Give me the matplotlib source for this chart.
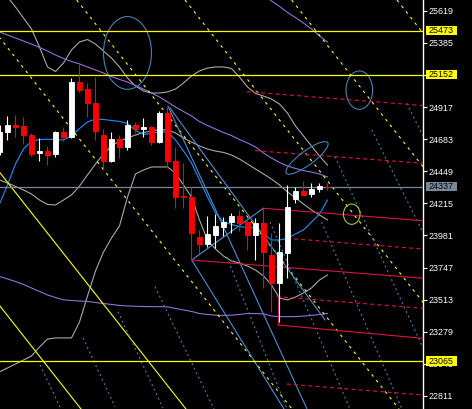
import numpy as np
import matplotlib
matplotlib.use("Agg")
import matplotlib.pyplot as plt
from matplotlib.patches import Ellipse, Rectangle
from matplotlib.transforms import Affine2D

plt.rcParams["lines.scale_dashes"] = False

# --- candles ---
OPEN = [24591, 24737, 24786, 24779, 24713, 24580, 24599, 24575, 24737, 24701,
        25099, 25048, 24948, 24713, 24524, 24682, 24626, 24784, 24757, 24771,
        24664, 24876, 24524, 24271, 24263, 23972, 23919, 23984, 24045, 24081,
        24123, 24081, 23984, 24070, 23839, 23632, 23855, 24244, 24305, 24283,
        24317, 24337]
HIGH = [24786, 24852, 24859, 24847, 24730, 24693, 24633, 24744, 24769, 25126,
        25231, 25094, 25138, 24757, 24737, 24713, 24822, 24810, 24835, 24779,
        24890, 24919, 24628, 24507, 24336, 24021, 24123, 24137, 24113, 24147,
        24167, 24108, 24106, 24179, 23997, 24070, 24349, 24332, 24380, 24361,
        24361, 24366]
LOW = [24567, 24677, 24701, 24648, 24560, 24526, 24494, 24551, 24669, 24693,
       25026, 24844, 24677, 24458, 24516, 24546, 24604, 24726, 24701, 24640,
       24655, 24470, 24179, 24179, 23802, 23851, 23899, 23887, 23977, 24001,
       24014, 23875, 23802, 23596, 23425, 23353, 23669, 24215, 24276, 24263,
       24296, 24312]
CLOSE = [24737, 24786, 24769, 24711, 24575, 24597, 24567, 24735, 24696, 25099,
         25041, 24944, 24742, 24524, 24684, 24623, 24786, 24755, 24769, 24664,
         24876, 24527, 24263, 24259, 23997, 23919, 23992, 24050, 24081, 24125,
         24074, 23984, 24070, 23863, 23632, 23863, 24191, 24307, 24276, 24320,
         24344, 24337]

# --- indicators, one value per bar ---
BB_UPPER = [25792, 25719, 25646, 25566, 25486, 25354, 25209, 25176, 25238, 25333,
            25391, 25409, 25376, 25325, 25274, 25209, 25129, 25070, 25034, 25019,
            25019, 25027, 25048, 25092, 25143, 25180, 25201, 25209, 25209, 25198,
            25136, 25063, 25016, 24997, 24975, 24939, 24873, 24779, 24706, 24633,
            24560, 24494]
BB_MID = [24385, 24363, 24338, 24312, 24283, 24239, 24207, 24203, 24239, 24276,
          24341, 24422, 24502, 24575, 24633, 24669, 24691, 24713, 24731, 24742,
          24753, 24750, 24728, 24691, 24662, 24633, 24611, 24596, 24586, 24567,
          24538, 24502, 24465, 24429, 24392, 24349, 24298, 24254, 24210, 24167,
          24130, 24094]
BB_LOWER = [22986, 23015, 23044, 23073, 23102, 23168, 23226, 23234, 23234, 23234,
            23350, 23540, 23722, 23860, 23962, 24050, 24261, 24429, 24458, 24480,
            24480, 24480, 24436, 24349, 24261, 24094, 23948, 23882, 23831, 23795,
            23780, 23758, 23729, 23686, 23620, 23525, 23511, 23532, 23562, 23598,
            23656, 23693]
MA_FAST = [24210, 24349, 24502, 24611, 24669, 24680, 24682, 24680, 24677, 24706,
           24760, 24808, 24830, 24826, 24819, 24812, 24797, 24746, 24717, 24724,
           24737, 24735, 24677, 24597, 24509, 24385, 24261, 24145, 24081, 24061,
           24045, 24039, 24035, 23992, 23948, 23948, 23959, 23992, 24021, 24079,
           24137, 24239]
ENV_MID = [25464, 25442, 25420, 25398, 25376, 25351, 25325, 25296, 25271, 25249,
           25231, 25209, 25187, 25165, 25139, 25118, 25099, 25074, 25048, 25019,
           24990, 24954, 24917, 24884, 24852, 24811, 24782, 24757, 24731, 24709,
           24680, 24655, 24626, 24582, 24545, 24513, 24487, 24469, 24454, 24443,
           24429, 24407]
ENV_LOWER = [23682, 23664, 23645, 23624, 23598, 23573, 23547, 23529, 23511, 23507,
             23503, 23500, 23492, 23485, 23478, 23471, 23467, 23465, 23463, 23462,
             23462, 23460, 23449, 23438, 23427, 23412, 23405, 23400, 23398, 23400,
             23405, 23412, 23412, 23409, 23394, 23389, 23389, 23390, 23393, 23398,
             23405, 23412]
# only the visible tail of the upper envelope (bars 33..41)
ENV_UPPER_BARS = [33, 34, 35, 36, 37, 38, 39, 40, 41]
ENV_UPPER = [25733, 25690, 25650, 25606, 25569, 25529, 25486, 25435, 25391]

# --- horizontal levels ---
YELLOW_LEVELS = [25473, 25152, 23065]
LAST_PRICE = 24337
TICKS = [25619, 25385, 25151, 24917, 24683, 24449, 24215, 23981, 23747,
         23513, 23279, 23045, 22811]

# --- parallel yellow lines: bar where each crosses the top / bottom price ---
FAN_TOP, FAN_BOTTOM = 25697, 22716
YELLOW_SOLID_TOP = [-30.06, -16.94]
YELLOW_SOLID_BOTTOM = [10.19, 23.31]
YELLOW_DASH_TOP = [-3.69, 9.65, 23.19, 36.52, 49.69]
YELLOW_DASH_BOTTOM = [36.56, 49.94, 63.44, 76.81, 89.94]

# --- red channel lines: (bar0, price0, bar1, price1) ---
RED_SOLID = [(32.98, 24179, 52.94, 24088), (24.03, 23802, 52.94, 23669),
             (34.85, 23328, 52.94, 23231), (34.85, 23535, 34.85, 23328)]
RED_DASHED = [(30.9, 25029, 52.94, 24928), (31.94, 24599, 52.94, 24507),
              (35.9, 23960, 52.94, 23882), (34.65, 23535, 52.94, 23450),
              (35.9, 22898, 52.94, 22818)]

# --- steel blue lines ---
BLUE_SOLID = [(24.03, 23802, 32.98, 24179), (21.06, 24924, 38.4, 22721),
              (21.31, 24910, 40.69, 23365), (24.03, 23802, 35.56, 22716)]
BLUE_DOTTED = [(5.06, 23037, 7.69, 22716), (10.44, 23234, 14.44, 22733),
               (14.81, 23425, 20.44, 22723), (19.44, 23607, 26.81, 22716),
               (41.94, 24555, 52.94, 23161), (40.27, 24079, 50.31, 22716),
               (46.53, 24750, 52.98, 23997), (50.9, 24944, 53.2, 24677),
               (33.81, 24079, 43.81, 22716), (28.4, 23826, 35.94, 22716)]

# --- ellipses: center bar, center price, axis vectors (bars, price) ---
ELLIPSES = [
    (16.0, 25311, (3.0, 0), (0, 265), "#4682b4"),
    (44.98, 25040, (1.66, 0), (0, 140), "#4682b4"),
    (38.44, 24546, (2.59, 111.5), (0.52, -41), "#4682b4"),
    (44.03, 24136, (1.04, 0), (0, 74), "#9acd32"),
]

bars = np.arange(len(OPEN))
o = np.array(OPEN); c = np.array(CLOSE)
cols = ["white" if cc > oo else "#ff0000" for oo, cc in zip(o, c)]

fig = plt.figure(figsize=(4.72, 4.09), dpi=100, facecolor="black")
ax = fig.add_axes([0, 0, 423 / 472, 1])
ax.set_facecolor("black")
ax.set_xlim(0.0625, 52.94)
ax.set_ylim(22716, 25697)

lw = 0.8
# indicators
ax.plot(bars, BB_UPPER, color="#a9a9a9", lw=lw, zorder=2)
ax.plot(bars, BB_MID, color="#a9a9a9", lw=lw, zorder=2)
ax.plot(bars, BB_LOWER, color="#a9a9a9", lw=lw, zorder=2)
ax.plot(bars, ENV_MID, color="#9370db", lw=lw, zorder=2)
ax.plot(bars, ENV_LOWER, color="#9370db", lw=lw, zorder=2)
ax.plot(ENV_UPPER_BARS, ENV_UPPER, color="#9370db", lw=lw, zorder=2)
ax.plot(bars, MA_FAST, color="#1e90ff", lw=lw, zorder=2)

# yellow parallel lines
for t, b in zip(YELLOW_SOLID_TOP, YELLOW_SOLID_BOTTOM):
    ax.plot([t, b], [FAN_TOP, FAN_BOTTOM], color="#ffff00", lw=lw, zorder=3)
for t, b in zip(YELLOW_DASH_TOP, YELLOW_DASH_BOTTOM):
    ax.plot([t, b], [FAN_TOP, FAN_BOTTOM], color="#ffff00", lw=lw,
            dashes=(2.0, 3.2), zorder=3)

for x0, y0, x1, y1 in BLUE_DOTTED:
    ax.plot([x0, x1], [y0, y1], color="#4682b4", lw=lw, dashes=(1.4, 2.2), zorder=3)
for x0, y0, x1, y1 in BLUE_SOLID:
    ax.plot([x0, x1], [y0, y1], color="#4f8fcc", lw=lw, zorder=3)
for x0, y0, x1, y1 in RED_SOLID:
    ax.plot([x0, x1], [y0, y1], color="#dc143c", lw=lw, zorder=3)
for x0, y0, x1, y1 in RED_DASHED:
    ax.plot([x0, x1], [y0, y1], color="#dc143c", lw=lw, dashes=(3.0, 2.2), zorder=3)

for cx, cy, (ax_, ay_), (bx_, by_), col in ELLIPSES:
    tr = Affine2D(np.array([[ax_, bx_, cx], [ay_, by_, cy], [0, 0, 1]])) + ax.transData
    ax.add_patch(Ellipse((0, 0), 2, 2, transform=tr, fill=False, edgecolor=col,
                         lw=lw, zorder=3))

# candles
ax.vlines(bars, LOW, HIGH, colors=cols, lw=0.8, zorder=5)
ax.bar(bars, np.abs(c - o), 0.64, bottom=np.minimum(o, c), color=cols,
       edgecolor=cols, lw=0.6, zorder=6)

# horizontal levels
for lv in YELLOW_LEVELS:
    ax.axhline(lv, color="#ffff00", lw=0.9, zorder=4)
ax.axhline(LAST_PRICE, color="#778899", lw=0.9, zorder=4)

# right axis
for s in ["top", "left", "bottom"]:
    ax.spines[s].set_visible(False)
ax.spines["right"].set_color("white")
ax.spines["right"].set_linewidth(1.0)
ax.set_xticks([])
ax.yaxis.tick_right()
ax.set_yticks(TICKS)
ax.set_yticklabels([str(t) for t in TICKS])
ax.tick_params(axis="y", colors="white", length=2.8, width=0.8, pad=1.2,
               labelsize=6.4)
for lab in ax.get_yticklabels():
    lab.set_fontfamily(["Liberation Sans", "DejaVu Sans"])

ytr = ax.get_yaxis_transform()
half = 4.7 * 7.288
for lv, face in [(l, "#ffff00") for l in YELLOW_LEVELS] + [(LAST_PRICE, "#778899")]:
    ax.add_patch(Rectangle((1 + 3 / 423, lv - half), 31 / 423, 2 * half,
                           transform=ytr, facecolor=face, edgecolor="none",
                           clip_on=False, zorder=10))
    ax.text(1 + 6 / 423, lv, str(lv), transform=ytr, color="black",
            fontsize=6.4, family=["Liberation Sans", "DejaVu Sans"],
            ha="left", va="center", clip_on=False, zorder=11)

fig.savefig("out.png", dpi=100, facecolor="black")
